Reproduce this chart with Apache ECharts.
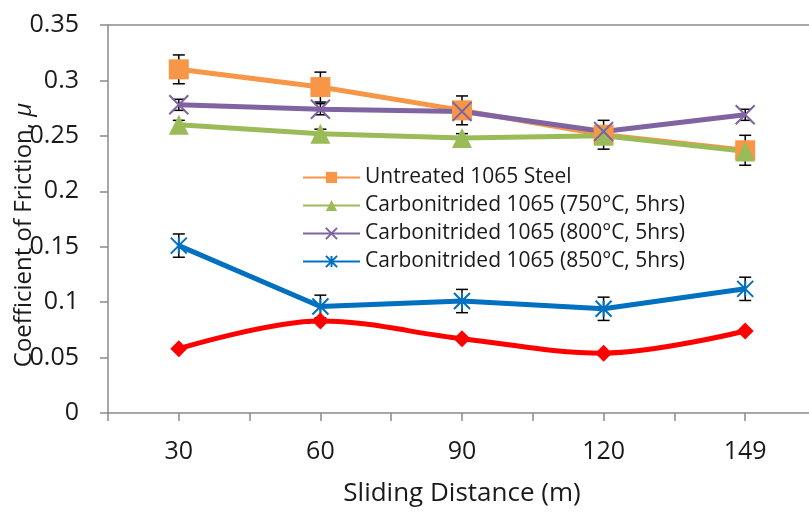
<!DOCTYPE html>
<html>
<head>
<meta charset="utf-8">
<script src="https://cdn.jsdelivr.net/npm/echarts@6/dist/echarts.min.js"></script>
<style>
html,body{margin:0;padding:0;background:#fff;}
#chart{width:809px;height:512px;}
</style>
</head>
<body>
<div id="chart"></div>
<script>
const categories = ['30', '60', '90', '120', '149'];
const yTicks = [0, 0.05, 0.1, 0.15, 0.2, 0.25, 0.3, 0.35];

const untreated = [0.310, 0.294, 0.273, 0.251, 0.237];
const untreatedErr = [0.013, 0.0135, 0.013, 0.013, 0.0135];

const carb750 = [0.260, 0.252, 0.248, 0.250, 0.236];
const carb750Err = [0.004, 0.004, 0.004, 0.004, 0.004];

const carb800 = [0.278, 0.274, 0.272, 0.254, 0.269];
const carb800Err = [0.005, 0.005, 0.005, 0.005, 0.005];

const carb850 = [0.151, 0.096, 0.101, 0.094, 0.112];
const carb850Err = [0.0105, 0.0103, 0.0105, 0.0105, 0.0105];

const extraRed = [0.058, 0.083, 0.067, 0.054, 0.074];

const names = [
  'Untreated 1065 Steel',
  'Carbonitrided 1065 (750°C, 5hrs)',
  'Carbonitrided 1065 (800°C, 5hrs)',
  'Carbonitrided 1065 (850°C, 5hrs)'
];

const FONT = 'Open Sans';
const AXIS_COLOR = '#8a8a8a';
const TEXT_COLOR = '#1a1a1a';

function errSeries(vals, errs) {
  return {
    type: 'custom',
    xAxisIndex: 0,
    yAxisIndex: 0,
    z: 1,
    silent: true,
    data: vals.map((v, i) => [i, v, errs[i]]),
    renderItem: function (params, api) {
      const i = api.value(0), v = api.value(1), e = api.value(2);
      const top = api.coord([i, v + e]);
      const bot = api.coord([i, v - e]);
      const hw = 6;
      const st = { stroke: '#000', lineWidth: 1.5 };
      return {
        type: 'group',
        children: [
          { type: 'line', shape: { x1: top[0], y1: top[1], x2: bot[0], y2: bot[1] }, style: st },
          { type: 'line', shape: { x1: top[0] - hw, y1: top[1], x2: top[0] + hw, y2: top[1] }, style: st },
          { type: 'line', shape: { x1: bot[0] - hw, y1: bot[1], x2: bot[0] + hw, y2: bot[1] }, style: st }
        ]
      };
    }
  };
}

const chart = echarts.init(document.getElementById('chart'), null, { renderer: 'canvas' });
chart.setOption({
  animation: false,
  backgroundColor: '#fff',
  textStyle: { fontFamily: FONT },
  grid: { left: 108, right: -7, top: 25, bottom: 99, containLabel: false, outerBoundsMode: 'none' },
  legend: {
    orient: 'vertical',
    left: 302,
    top: 167,
    padding: 0,
    itemWidth: 57,
    itemHeight: 14,
    itemGap: 7,
    data: names,
    textStyle: { fontFamily: FONT, fontSize: 21, color: TEXT_COLOR, lineHeight: 21 }
  },
  xAxis: [
    {
      type: 'category',
      data: categories,
      position: 'bottom',
      boundaryGap: true,
      name: 'Sliding Distance (m)',
      nameLocation: 'middle',
      nameGap: 68,
      nameMoveOverlap: false,
      nameTextStyle: { fontFamily: FONT, fontSize: 26, color: TEXT_COLOR },
      axisLine: { show: true, lineStyle: { color: AXIS_COLOR, width: 1.5 } },
      axisTick: { show: true, alignWithLabel: false, length: 8, lineStyle: { color: AXIS_COLOR, width: 1.5 } },
      axisLabel: { fontFamily: FONT, fontSize: 25, color: TEXT_COLOR, margin: 26 },
      splitLine: { show: false }
    },
    {
      type: 'category',
      data: categories,
      position: 'bottom',
      boundaryGap: true,
      axisLine: { show: false },
      axisTick: { show: true, alignWithLabel: true, length: 8, lineStyle: { color: AXIS_COLOR, width: 1.5 } },
      axisLabel: { show: false },
      splitLine: { show: false }
    },
    {
      type: 'category',
      data: categories,
      position: 'top',
      boundaryGap: true,
      axisLine: { show: true, lineStyle: { color: AXIS_COLOR, width: 1.5 } },
      axisTick: { show: false },
      axisLabel: { show: false },
      splitLine: { show: false }
    }
  ],
  yAxis: {
    type: 'value',
    min: yTicks[0],
    max: yTicks[yTicks.length - 1],
    interval: 0.05,
    name: 'Coefficient of Friction, {i|μ}',
    nameLocation: 'middle',
    nameGap: 72,
    nameRotate: 90,
    nameMoveOverlap: false,
    nameTextStyle: {
      fontFamily: FONT, fontSize: 24, color: TEXT_COLOR,
      padding: [0, 32, 0, 0],
      rich: { i: { fontFamily: FONT, fontSize: 24, fontStyle: 'italic', color: TEXT_COLOR } }
    },
    axisLine: { show: true, lineStyle: { color: AXIS_COLOR, width: 1.5 } },
    axisTick: { show: true, length: 8, lineStyle: { color: AXIS_COLOR, width: 1.5 } },
    axisLabel: {
      fontFamily: FONT, fontSize: 25, color: TEXT_COLOR, margin: 29,
      formatter: function (v) { return String(+v.toFixed(2)); }
    },
    splitLine: { show: false }
  },
  series: [
    errSeries(untreated, untreatedErr),
    errSeries(carb750, carb750Err),
    errSeries(carb800, carb800Err),
    errSeries(carb850, carb850Err),
    {
      name: names[0], type: 'line', data: untreated, z: 2,
      symbol: 'rect', symbolSize: 20,
      lineStyle: { color: '#F79646', width: 5 },
      itemStyle: { color: '#F79646' }
    },
    {
      name: names[1], type: 'line', data: carb750, z: 2,
      symbol: 'triangle', symbolSize: 20,
      lineStyle: { color: '#9BBB59', width: 5 },
      itemStyle: { color: '#9BBB59' }
    },
    {
      name: names[2], type: 'line', data: carb800, z: 2,
      symbol: 'path://M0,0L10,10M10,0L0,10', symbolSize: 19,
      lineStyle: { color: '#8064A2', width: 5 },
      itemStyle: { color: '#8064A2', borderColor: '#8064A2', borderWidth: 2 }
    },
    {
      name: names[3], type: 'line', data: carb850, z: 2,
      symbol: 'path://M0,0L10,10M10,0L0,10M5,0L5,10', symbolSize: 16,
      lineStyle: { color: '#0070C0', width: 5 },
      itemStyle: { color: '#0070C0', borderColor: '#0070C0', borderWidth: 2 }
    },
    {
      name: 'extra', type: 'line', data: extraRed, z: 2,
      smooth: 0.35,
      symbol: 'diamond', symbolSize: 17,
      lineStyle: { color: '#FF0000', width: 5 },
      itemStyle: { color: '#FF0000' }
    }
  ]
});
</script>
</body>
</html>
